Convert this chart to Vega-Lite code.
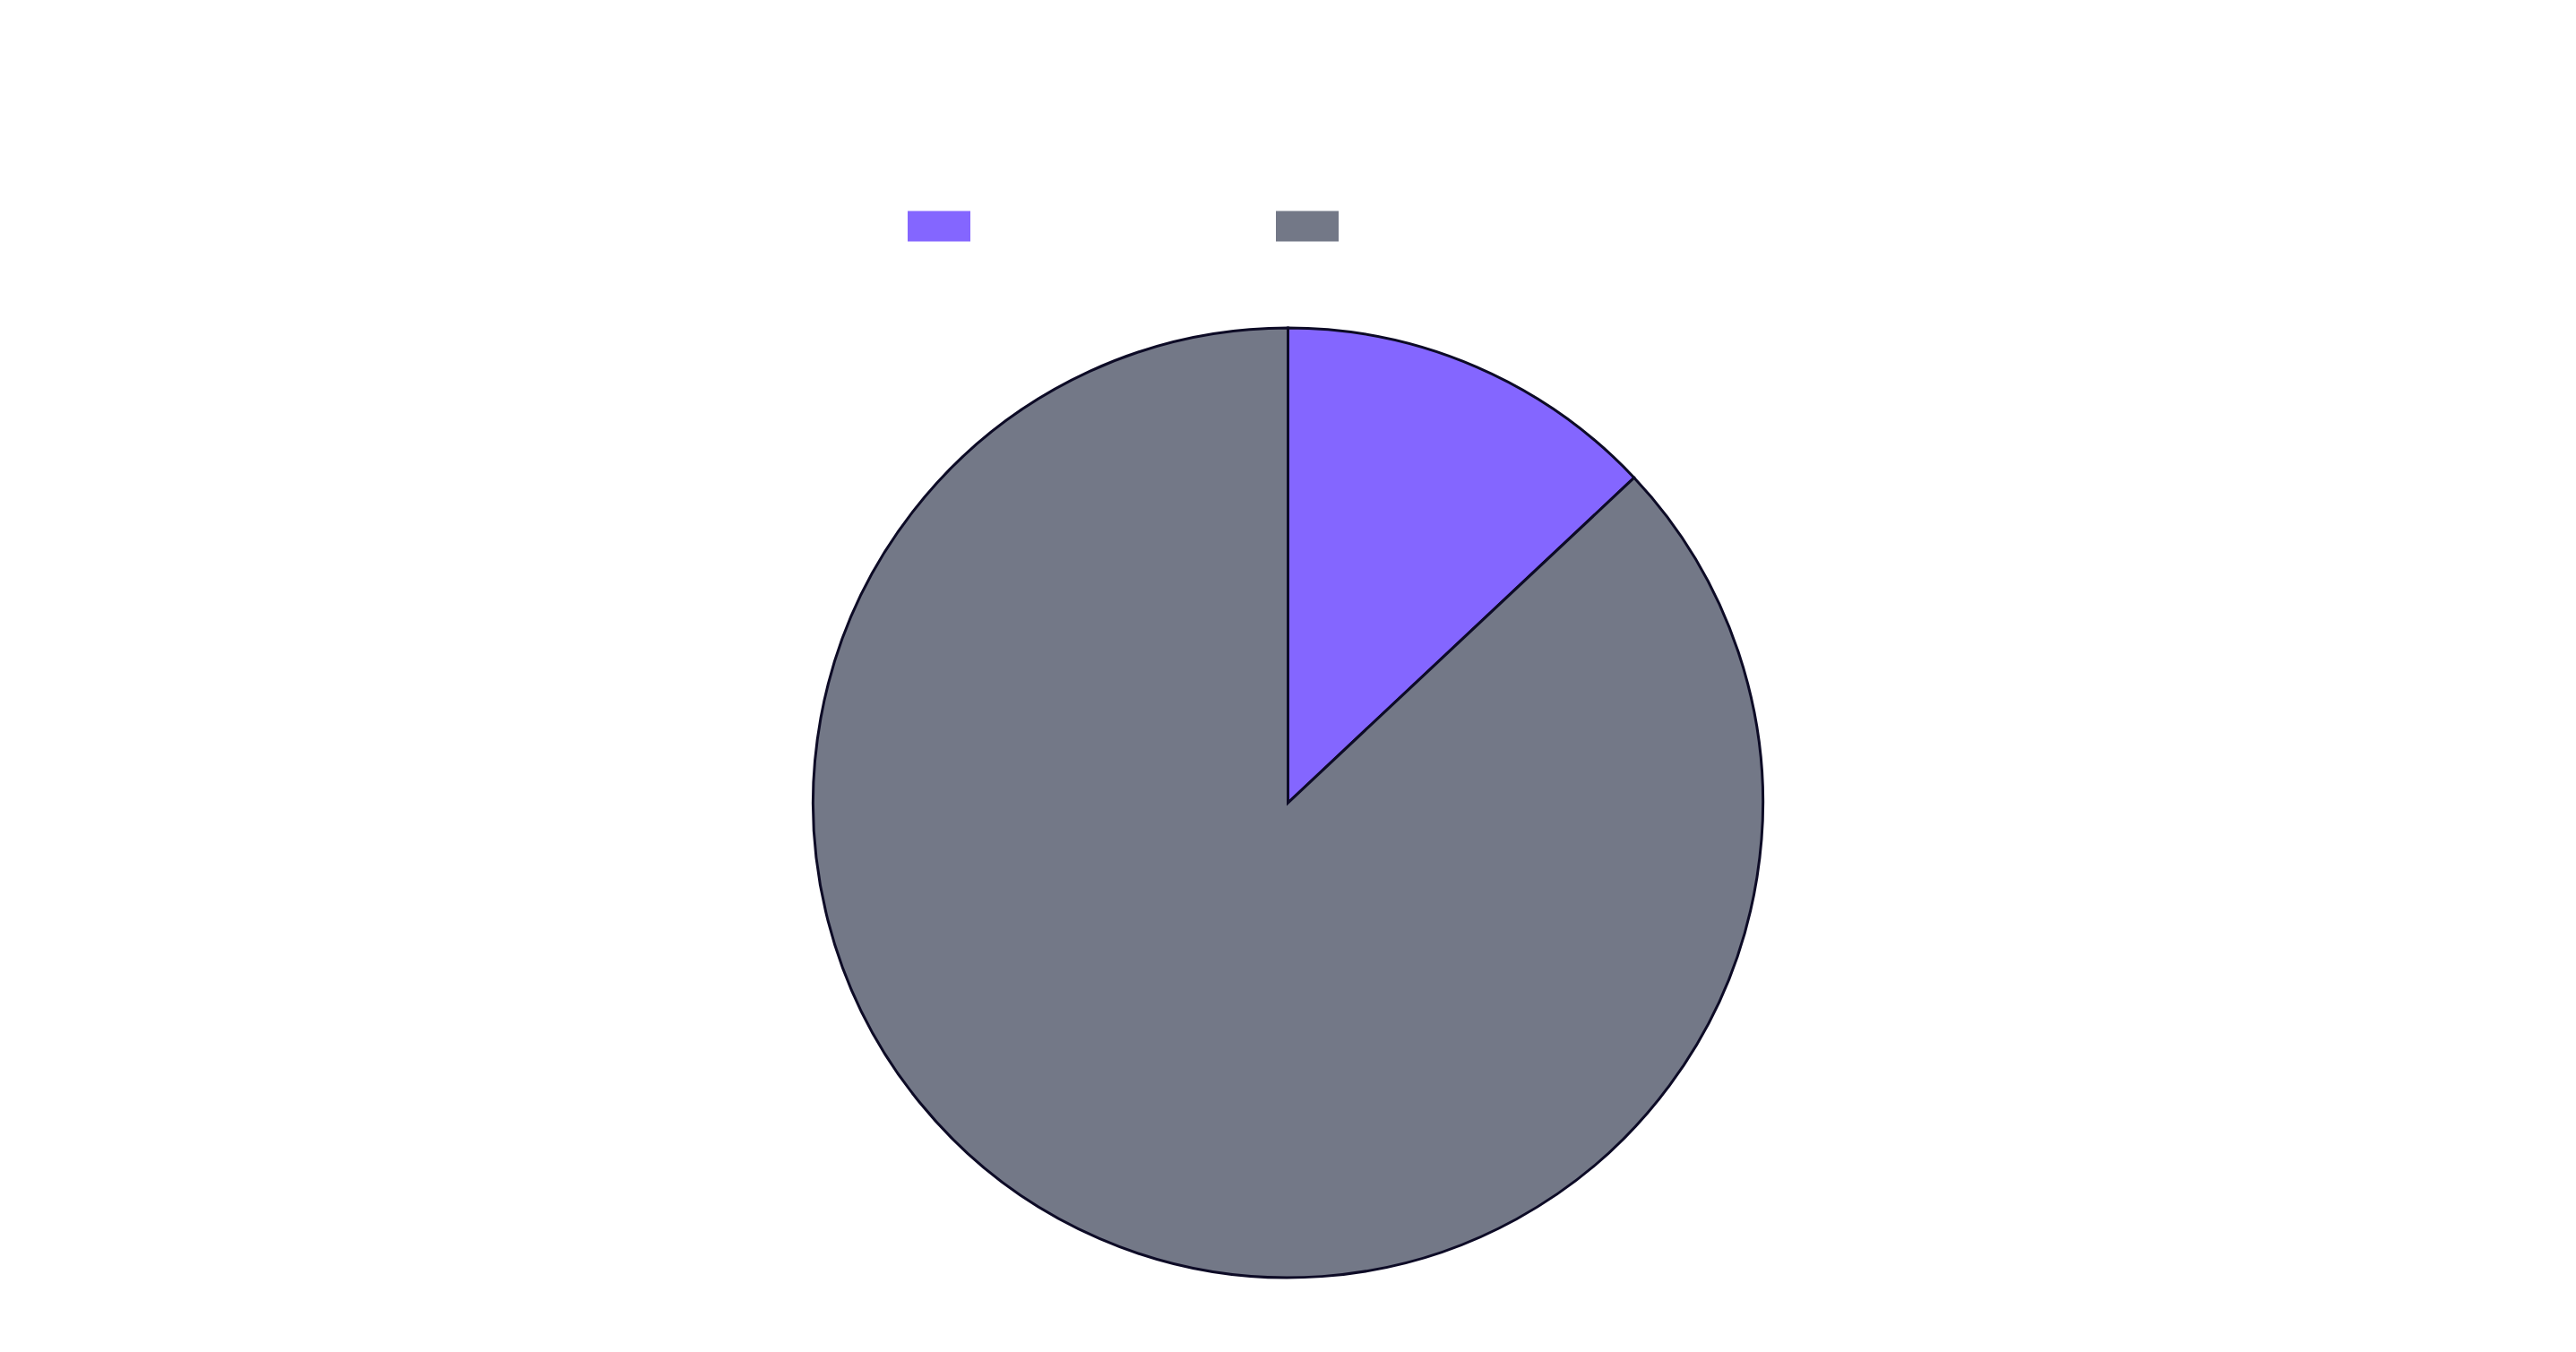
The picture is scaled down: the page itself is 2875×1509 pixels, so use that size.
{
  "$schema": "https://vega.github.io/schema/vega-lite/v6.json",
  "width": 2875,
  "height": 1060,
  "autosize": {"type": "none"},
  "padding": {"top": 366, "left": 0, "right": 0, "bottom": 83},
  "background": "white",
  "config": {"view": {"stroke": null}},
  "data": {
    "values": [
      {"category": "Yes", "value": 13, "order": 1},
      {"category": "No", "value": 87, "order": 2}
    ]
  },
  "mark": {"type": "arc", "outerRadius": 530, "stroke": "#0d0b26", "strokeWidth": 3},
  "encoding": {
    "theta": {"field": "value", "type": "quantitative", "stack": true},
    "order": {"field": "order", "type": "quantitative"},
    "color": {
      "field": "category",
      "type": "nominal",
      "sort": ["Yes", "No"],
      "scale": {"domain": ["Yes", "No"], "range": ["#8466ff", "#737887"]},
      "legend": {
        "orient": "none",
        "direction": "horizontal",
        "legendX": 1013,
        "legendY": -149,
        "title": null,
        "padding": 0,
        "symbolType": "M-1,-0.486H1V0.486H-1Z",
        "symbolSize": 4900,
        "symbolStrokeWidth": 0,
        "symbolOpacity": 1,
        "labelColor": "#ffffff",
        "labelFont": "Liberation Sans",
        "labelFontSize": 24,
        "labelOffset": 10,
        "columnPadding": 291
      }
    }
  }
}
